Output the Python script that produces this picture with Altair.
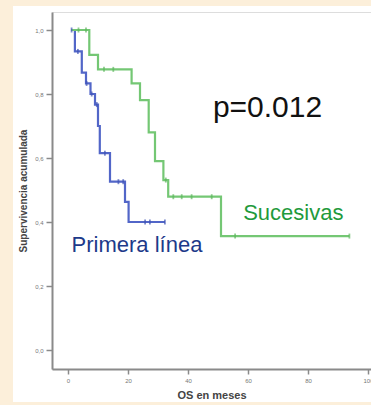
import altair as alt
import pandas as pd

# Kaplan-Meier step points: months, cumulative survival
primera_t = [1.0, 2.3, 4.6, 6.0, 7.5, 9.0, 10.0, 10.6, 14.0, 19.0, 20.2, 32.3]
primera_s = [1.0, 0.933, 0.867, 0.833, 0.80, 0.767, 0.70, 0.615, 0.526, 0.463, 0.40, 0.40]
sucesivas_t = [1.0, 7.1, 10.0, 21.2, 24.0, 26.9, 29.0, 31.8, 33.4, 51.0, 93.8]
sucesivas_s = [1.0, 0.922, 0.877, 0.833, 0.781, 0.68, 0.59, 0.531, 0.479, 0.356, 0.356]

# Censored observations
primera_cens_t = [1.2, 3.3, 6.2, 7.9, 9.6, 12.3, 16.8, 18.4, 25.7, 27.3, 32.3]
primera_cens_s = [1.0, 0.933, 0.833, 0.80, 0.767, 0.615, 0.526, 0.526, 0.40, 0.40, 0.40]
sucesivas_cens_t = [3.5, 6.0, 12.0, 15.1, 32.6, 35.1, 37.9, 41.2, 47.9, 55.7, 93.8]
sucesivas_cens_s = [1.0, 1.0, 0.877, 0.877, 0.531, 0.479, 0.479, 0.479, 0.479, 0.356, 0.356]

groups = ["Primera línea", "Sucesivas"]
line_colors = ["#5266c8", "#74c774"]
mark_colors = ["#3f53b4", "#5cb75c"]

# Annotations
labels = ["p=0.012", "Sucesivas", "Primera línea"]
label_t = [48.3, 58.4, 1.2]
label_s = [0.729, 0.406, 0.307]
label_colors = ["#111111", "#1f9a3c", "#1d3a8a"]
label_sizes = [30, 22, 22]

x_ticks = [0, 20, 40, 60, 80, 100]
y_ticks = [0.0, 0.2, 0.4, 0.6, 0.8, 1.0]

CREAM = "#fcefda"
FONT = "Liberation Sans"

steps = pd.concat([
    pd.DataFrame({"t": primera_t, "s": primera_s, "g": groups[0]}),
    pd.DataFrame({"t": sucesivas_t, "s": sucesivas_s, "g": groups[1]}),
])
cens = pd.concat([
    pd.DataFrame({"t": primera_cens_t, "s": primera_cens_s, "g": groups[0]}),
    pd.DataFrame({"t": sucesivas_cens_t, "s": sucesivas_cens_s, "g": groups[1]}),
])
notes = pd.DataFrame({"label": labels, "t": label_t, "s": label_s,
                      "c": label_colors, "size": label_sizes})

x_scale = alt.Scale(domain=[-5.333, 101], nice=False, zero=False)
y_scale = alt.Scale(domain=[-0.059375, 1.05625], nice=False, zero=False)

x_axis = alt.Axis(values=x_ticks, title="OS en meses", grid=False,
                  labelFontSize=6, labelColor="#777777", tickSize=5,
                  tickColor="#8a8a8a", tickWidth=1.5, domainColor="#8a8a8a",
                  domainWidth=2, labelPadding=3, titleFontSize=11,
                  titleFontWeight="bold", titleColor="#444444", titlePadding=6)
y_axis = alt.Axis(values=y_ticks, title="Supervivencia acumulada", grid=False,
                  labelExpr="replace(format(datum.value, '.1f'), '.', ',')",
                  labelFontSize=6, labelColor="#777777", tickSize=6,
                  tickColor="#8a8a8a", tickWidth=1.5, domainColor="#8a8a8a",
                  domainWidth=2, labelPadding=3, titleFontSize=10,
                  titleFontWeight="bold", titleColor="#444444", titlePadding=6)

lines = alt.Chart(steps).mark_line(interpolate="step-after", strokeWidth=2.2).encode(
    x=alt.X("t:Q", scale=x_scale, axis=x_axis),
    y=alt.Y("s:Q", scale=y_scale, axis=y_axis),
    color=alt.Color("g:N", scale=alt.Scale(domain=groups, range=line_colors), legend=None),
    detail="g:N",
)

ticks = alt.Chart(cens).mark_tick(orient="vertical", size=5, thickness=1.8).encode(
    x=alt.X("t:Q", scale=x_scale),
    y=alt.Y("s:Q", scale=y_scale),
    color=alt.Color("g:N", scale=alt.Scale(domain=groups, range=mark_colors), legend=None),
)

texts = alt.Chart(notes).mark_text(align="left", baseline="alphabetic", font=FONT).encode(
    x=alt.X("t:Q", scale=x_scale),
    y=alt.Y("s:Q", scale=y_scale),
    text="label:N",
    color=alt.Color("c:N", scale=None),
    size=alt.Size("size:Q", scale=None),
)


def strip(x, x2, y, y2):
    # cream frame around the white panel
    return alt.Chart(alt.Data(values=[{"k": 0}])).mark_rect(color=CREAM).encode(
        x=alt.value(x), x2=alt.value(x2), y=alt.value(y), y2=alt.value(y2))


frame = [
    strip(-52, -39, -12, 393),
    strip(-52, 319, -12, -6),
    strip(-52, 319, 390, 393),
]

chart = alt.layer(*frame, lines, ticks, texts).resolve_scale(color="independent").properties(
    width=319,
    height=357,
    padding={"left": 52, "top": 12, "right": 0, "bottom": 36},
    autosize=alt.AutoSizeParams(type="none"),
    background="white",
).configure_view(
    fill="#efefef", stroke="#b8b8b8", strokeWidth=1,
).configure(font=FONT)

chart.save("out.html", embed_options={"renderer": "svg", "actions": False})
